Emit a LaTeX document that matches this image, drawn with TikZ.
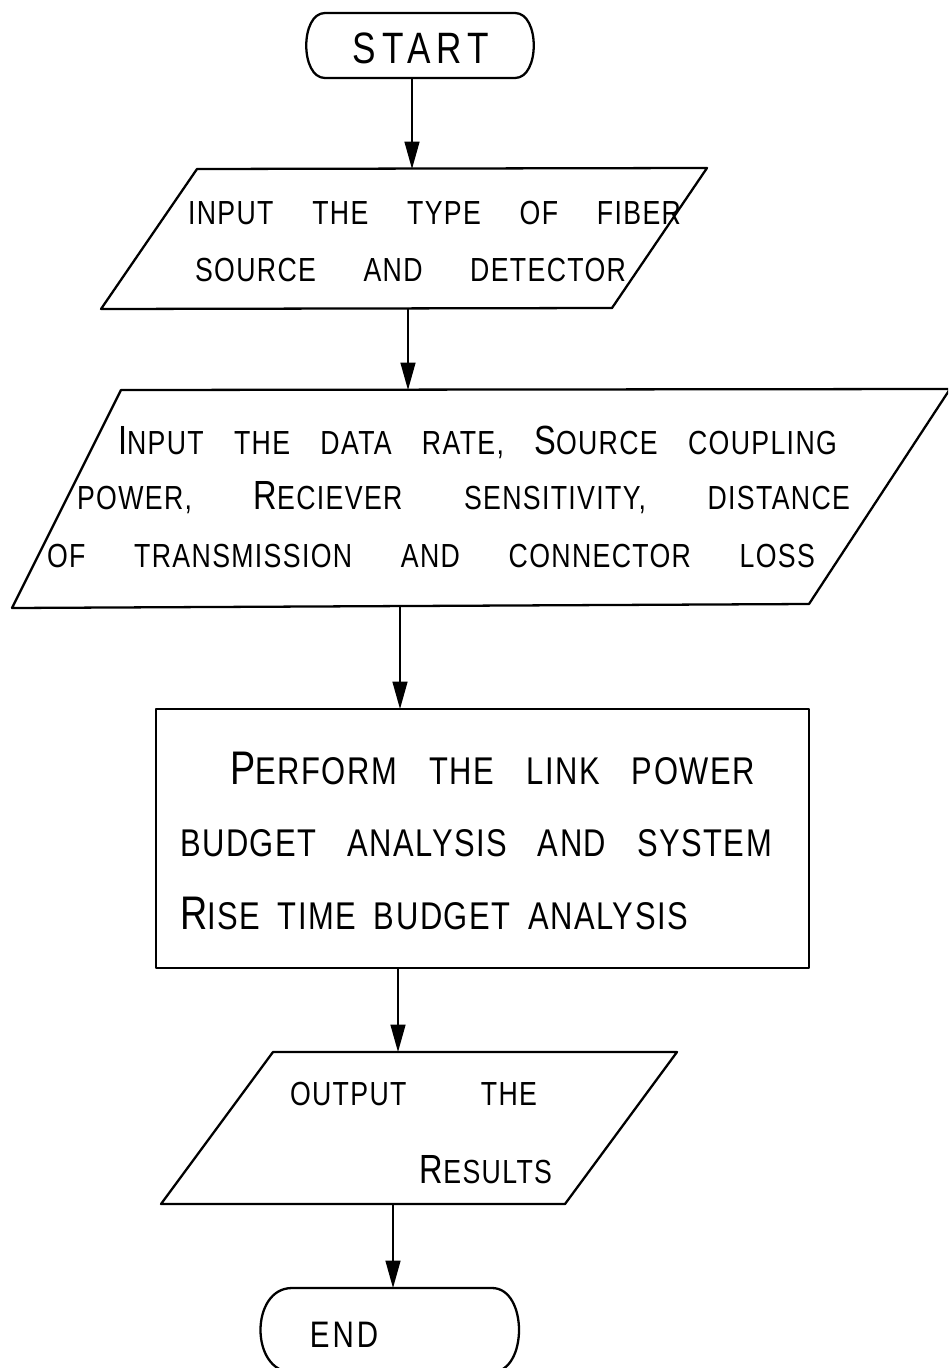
\documentclass[tikz,border=0pt]{standalone}
\usepackage{fontspec}
\setmainfont{Liberation Sans}
% condensed, slightly tracked capitals for the lettering
\newfontfamily\handfont[FakeStretch=0.8,LetterSpace=4]{Liberation Sans}
\usetikzlibrary{arrows.meta}
% enlarged initial letter (small-caps look)
\newcommand{\ini}[1]{\scalebox{1.22}{#1}}
% one line of text spread over a given width
\newcommand{\spread}[2]{\makebox[#1][s]{#2}}

\begin{document}
\begin{tikzpicture}[x=0.02cm,y=-0.02cm,
  outline/.style={line width=1.3pt, line join=round},
  link/.style={line width=0.9pt, -{Triangle[width=0.3cm,length=0.55cm]}},
  label/.style={inner sep=0pt, anchor=base, font=\handfont\fontsize{19}{22}\selectfont},
  biglabel/.style={label, font=\handfont\fontsize{22}{26}\selectfont}]
\useasboundingbox (0,0) rectangle (948,1368);
\clip (0,0) rectangle (948,1368);
\fill[white] (0,0) rectangle (948,1368);

% ---- START terminal
\draw[outline] (325,13) -- (515,13) .. controls (540,13) and (540,78) .. (515,78)
  -- (325,78) .. controls (300,78) and (300,13) .. cycle;
\node[label, font=\handfont\fontsize{25}{28}\selectfont\addfontfeature{LetterSpace=14}] (start) at (421,64) {START};
\coordinate (start-s) at (412,78);

% ---- input: fibre, source, detector
\draw[outline] (197,169) -- (707,168) -- (612,308) -- (101,309) -- cycle;
\node[label] (fiber1) at (434.5,225) {\spread{9.86cm}{INPUT THE TYPE OF FIBER}};
\node[label] (fiber2) at (410.5,282) {\spread{8.62cm}{SOURCE AND DETECTOR}};
\coordinate (fiber-n) at (412,169);
\coordinate (fiber-s) at (408,308);

% ---- input: link data
\draw[outline] (121,390) -- (950,389) -- (809,604) -- (12,608) -- cycle;
\node[label] (data1) at (477.5,454) {\spread{14.38cm}{\ini{I}NPUT THE DATA RATE, \ini{S}OURCE COUPLING}};
\node[label] (data2) at (463.5,509) {\spread{15.46cm}{POWER, \ini{R}ECIEVER SENSITIVITY, DISTANCE}};
\node[label] (data3) at (431,567) {\spread{15.36cm}{OF TRANSMISSION AND CONNECTOR LOSS}};
\coordinate (data-n) at (408,390);
\coordinate (data-s) at (400,605);

% ---- process: budget analysis
\draw[outline] (156,709) rectangle (809,968);
\node[biglabel] (budget1) at (492.5,784) {\spread{10.5cm}{\ini{P}ERFORM THE LINK POWER}};
\node[biglabel] (budget2) at (476,856) {\spread{11.84cm}{BUDGET ANALYSIS AND SYSTEM}};
\node[biglabel] (budget3) at (434,929) {\spread{10.16cm}{\ini{R}ISE TIME BUDGET ANALYSIS}};
\coordinate (budget-n) at (400,709);
\coordinate (budget-s) at (398,968);

% ---- output
\draw[outline] (273,1052) -- (677,1052) -- (565,1204) -- (161,1204) -- cycle;
\node[label] (result1) at (413.5,1105) {\spread{4.94cm}{OUTPUT THE}};
\node[label] (result2) at (486,1183) {\ini{R}ESULTS};
\coordinate (result-n) at (398,1052);
\coordinate (result-s) at (393,1204);

% ---- END terminal
\draw[outline] (292,1288) -- (492,1288) .. controls (528,1288) and (528,1372) .. (492,1372)
  -- (292,1372) .. controls (250,1372) and (250,1288) .. cycle;
\node[label, font=\handfont\fontsize{21}{24}\selectfont\addfontfeature{LetterSpace=8}] (end) at (344,1347) {END};
\coordinate (end-n) at (393,1288);

% ---- connectors
\draw[link] (start-s) -- (fiber-n);
\draw[link] (fiber-s) -- (data-n);
\draw[link] (data-s) -- (budget-n);
\draw[link] (budget-s) -- (result-n);
\draw[link] (result-s) -- (end-n);
\end{tikzpicture}
\end{document}
